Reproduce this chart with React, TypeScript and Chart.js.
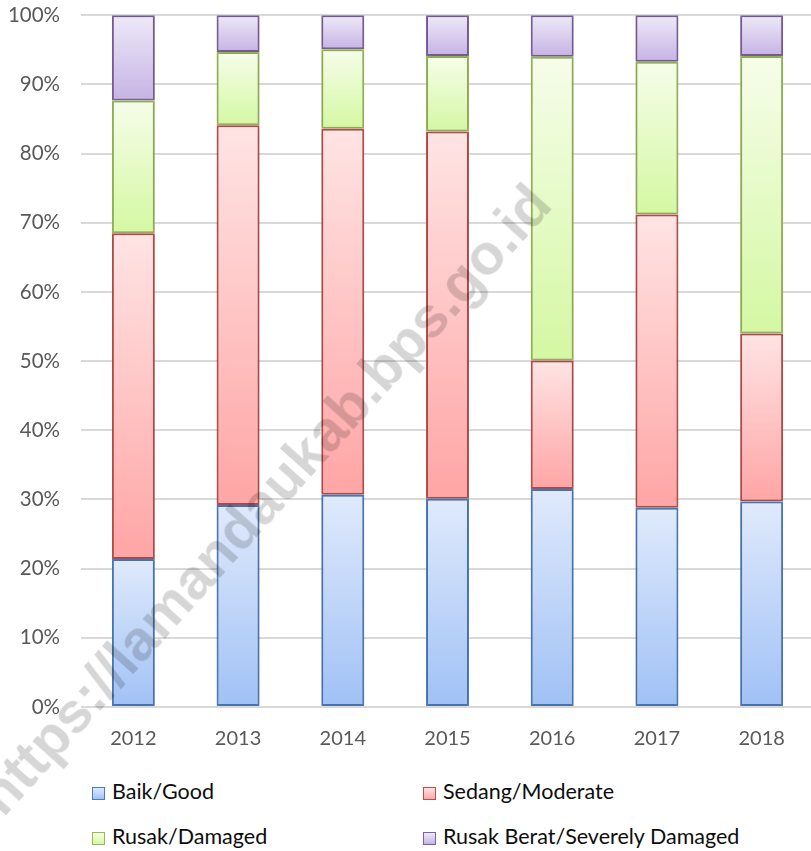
import React, { useEffect, useRef } from 'react';
import { Chart, registerables } from 'chart.js';

Chart.register(...registerables);

const YEARS = ['2012', '2013', '2014', '2015', '2016', '2017', '2018'];
const BAIK = [21.4, 29.2, 30.7, 30.1, 31.5, 28.8, 29.7];
const SEDANG = [47.1, 54.9, 52.9, 53.1, 18.6, 42.4, 24.3];
const RUSAK = [19.2, 10.6, 11.5, 10.9, 43.9, 22.1, 40.1];
const RUSAK_BERAT = [12.3, 5.3, 4.9, 5.9, 6.0, 6.7, 5.9];
const SERIES_LABELS = ['Baik/Good', 'Sedang/Moderate', 'Rusak/Damaged', 'Rusak Berat/Severely Damaged'];
const SERIES = [BAIK, SEDANG, RUSAK, RUSAK_BERAT];
const WATERMARK = 'https://lamandaukab.bps.go.id';

const STYLES = [
  { light: '#e0eafc', dark: '#a0c1f5', border: '#4a7cbd' },
  { light: '#ffe4e4', dark: '#ffa5a5', border: '#bf4d4a' },
  { light: '#f6fdea', dark: '#d4f8a2', border: '#98ba55' },
  { light: '#eee9f8', dark: '#c6b3e4', border: '#7d60a0' },
];

const FONT = 'Lato, "Open Sans", sans-serif';

function makeBg(dsIndex: number) {
  const st = STYLES[dsIndex];
  return (ctx: any) => {
    const chart = ctx.chart;
    const y = chart.scales && chart.scales.y;
    if (ctx.type !== 'data' || !y || !chart.chartArea) return st.dark;
    const i = ctx.dataIndex;
    let start = 0;
    for (let k = 0; k < dsIndex; k++) start += SERIES[k][i];
    const end = start + SERIES[dsIndex][i];
    const top = y.getPixelForValue(end);
    const bottom = y.getPixelForValue(start);
    if (!isFinite(top) || !isFinite(bottom)) return st.dark;
    const g = chart.ctx.createLinearGradient(0, top, 0, bottom);
    g.addColorStop(0, st.light);
    g.addColorStop(1, st.dark);
    return g;
  };
}

const shadowPlugin = {
  id: 'barShadow',
  beforeDatasetsDraw(chart: any) {
    const c = chart.ctx;
    c.save();
    c.shadowColor = 'rgba(0,0,0,0.22)';
    c.shadowBlur = 4;
  },
  afterDatasetsDraw(chart: any) {
    chart.ctx.restore();
  },
};

export default function App() {
  const ref = useRef<HTMLCanvasElement | null>(null);

  useEffect(() => {
    if (!ref.current) return;
    const chart = new Chart(ref.current, {
      type: 'bar',
      data: {
        labels: YEARS,
        datasets: SERIES.map((d, idx) => ({
          label: SERIES_LABELS[idx],
          data: d,
          backgroundColor: makeBg(idx),
          borderColor: STYLES[idx].border,
          borderWidth: 2,
          borderSkipped: false,
          barPercentage: 0.41,
          categoryPercentage: 1,
        })),
      },
      options: {
        responsive: false,
        animation: false,
        devicePixelRatio: 1,
        layout: { padding: { top: 15, left: 0, right: 0, bottom: 0 } },
        plugins: {
          legend: { display: false },
          tooltip: { enabled: false },
        },
        scales: {
          x: {
            stacked: true,
            grid: { display: false },
            border: { display: false },
            ticks: {
              color: '#595959',
              font: { family: FONT, size: 20 },
              padding: 12,
            },
            afterFit: (s: any) => {
              s.height = 53;
            },
          },
          y: {
            stacked: true,
            min: 0,
            max: 100,
            grid: { color: '#d9d9d9', lineWidth: 2, drawTicks: false },
            border: { display: false },
            ticks: {
              stepSize: 10,
              color: '#595959',
              font: { family: FONT, size: 20.5 },
              padding: 21,
              callback: (v: any) => v + '%',
            },
            afterFit: (s: any) => {
              s.width = 81;
            },
          },
        },
      },
      plugins: [shadowPlugin],
    });
    return () => chart.destroy();
  }, []);

  const legendPos = [
    { left: 92, top: 781 },
    { left: 423, top: 781 },
    { left: 92, top: 826 },
    { left: 423, top: 826 },
  ];

  return (
    <div
      style={{
        position: 'absolute',
        left: 0,
        top: 0,
        width: 811,
        height: 851,
        overflow: 'hidden',
        background: '#ffffff',
      }}
    >
      <canvas ref={ref} width={814} height={778} style={{ display: 'block', position: 'absolute', left: 0, top: -18 }} />
      {SERIES_LABELS.map((lab, i) => (
        <div
          key={lab}
          style={{
            position: 'absolute',
            left: legendPos[i].left,
            top: legendPos[i].top,
            height: 22,
            whiteSpace: 'nowrap',
          }}
        >
          <div
            style={{
              position: 'absolute',
              left: 0,
              top: 6,
              width: 11,
              height: 11,
              border: `1.5px solid ${STYLES[i].border}`,
              background: `linear-gradient(${STYLES[i].light}, ${STYLES[i].dark})`,
            }}
          />
          <span
            style={{
              position: 'absolute',
              left: 20,
              top: 0,
              fontFamily: FONT,
              fontSize: 21.5,
              lineHeight: 1,
              color: '#0d0d0d',
            }}
          >
            {lab}
          </span>
        </div>
      ))}
      <div
        style={{
          position: 'absolute',
          left: 264,
          top: 499,
          transform: 'translate(-50%, -50%) rotate(-48deg)',
          fontFamily: '"Liberation Sans", Arial, sans-serif',
          fontWeight: 'bold',
          fontSize: 57,
          color: 'rgba(0,0,0,0.16)',
          whiteSpace: 'nowrap',
          pointerEvents: 'none',
        }}
      >
        {WATERMARK}
      </div>
    </div>
  );
}
